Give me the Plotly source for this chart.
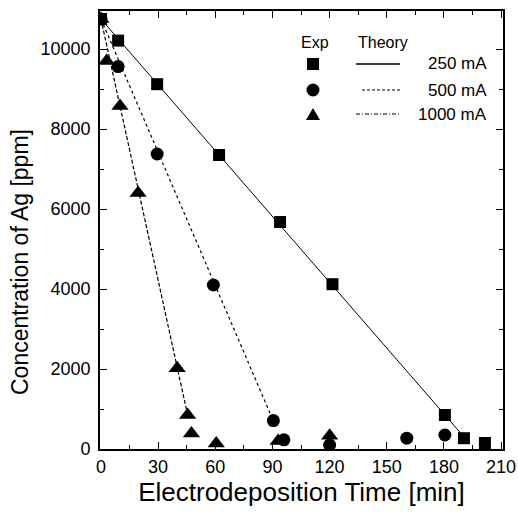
import plotly.graph_objects as go

# ---- data ----
t_250 = [0, 9, 29.5, 62, 94, 121.5, 180.5, 190.5, 201.5]
c_250 = [10750, 10210, 9120, 7350, 5675, 4120, 850, 270, 150]

t_500 = [0, 9, 29.5, 59, 90.5, 96, 120, 160.5, 180.5]
c_500 = [10750, 9560, 7375, 4100, 710, 230, 100, 270, 350]

t_1000 = [0, 3, 10, 19.5, 40, 45.5, 47.5, 60.5, 93, 120]
c_1000 = [10750, 9700, 8575, 6400, 2020, 850, 390, 140, 200, 330]

th_t_250 = [0, 190]
th_c_250 = [10750, 330]
th_t_500 = [0, 90.5]
th_c_500 = [10750, 700]
th_t_1000 = [0, 45.5]
th_c_1000 = [10750, 850]

x_ticks = [0, 30, 60, 90, 120, 150, 180, 210]
y_ticks = [0, 2000, 4000, 6000, 8000, 10000]
y_tick_text = ["0", "2000", "4000", "6000", "8000", "10000"]

FONT = "Liberation Sans, Arial, sans-serif"

fig = go.Figure()

# theory lines
fig.add_trace(go.Scatter(x=th_t_250, y=th_c_250, mode="lines",
                         line=dict(color="black", width=1), showlegend=False))
fig.add_trace(go.Scatter(x=th_t_500, y=th_c_500, mode="lines",
                         line=dict(color="black", width=1.2, dash="3px,3px"), showlegend=False))
fig.add_trace(go.Scatter(x=th_t_1000, y=th_c_1000, mode="lines",
                         line=dict(color="black", width=1.2, dash="4px,2px"), showlegend=False))

# experimental points
fig.add_trace(go.Scatter(x=t_250, y=c_250, mode="markers",
                         marker=dict(symbol="square", size=12, color="black"), showlegend=False))
fig.add_trace(go.Scatter(x=t_500, y=c_500, mode="markers",
                         marker=dict(symbol="circle", size=13, color="black"), showlegend=False))
fig.add_trace(go.Scatter(x=t_1000, y=c_1000, mode="markers",
                         marker=dict(symbol="triangle-up", size=15, color="black"), showlegend=False))

W, H = 518, 513
L, R, T, B = 100, 15, 11, 64
pw, ph = W - L - R, H - T - B


def px(xp):
    return (xp - L) / pw


def py(yp):
    return (H - B - yp) / ph


shapes = []
# legend symbols
sx = px(313)
hw = 6 / pw
hh = 6 / ph
ys = py(64)
shapes.append(dict(type="rect", xref="paper", yref="paper", x0=sx - hw, x1=sx + hw,
                   y0=ys - hh, y1=ys + hh, fillcolor="black", line=dict(width=0)))
yc = py(90)
r = 6.5
shapes.append(dict(type="circle", xref="paper", yref="paper", x0=sx - r / pw, x1=sx + r / pw,
                   y0=yc - r / ph, y1=yc + r / ph, fillcolor="black", line=dict(width=0)))
yt = py(114)
tw, th = 7 / pw, 6 / ph
shapes.append(dict(type="path", xref="paper", yref="paper",
                   path=f"M {sx - tw} {yt - th} L {sx + tw} {yt - th} L {sx} {yt + th} Z",
                   fillcolor="black", line=dict(width=0)))
# legend line samples
lx0, lx1 = px(356), px(400)
shapes.append(dict(type="line", xref="paper", yref="paper", x0=lx0, x1=lx1, y0=ys, y1=ys,
                   line=dict(color="black", width=1.3)))
shapes.append(dict(type="line", xref="paper", yref="paper", x0=px(362), x1=lx1, y0=yc, y1=yc,
                   line=dict(color="black", width=1, dash="3px,2px")))
shapes.append(dict(type="line", xref="paper", yref="paper", x0=lx0, x1=lx1, y0=yt, y1=yt,
                   line=dict(color="black", width=1, dash="4px,2px,1px,2px")))

annotations = [
    dict(text="Exp", x=px(315), y=py(42), xref="paper", yref="paper", showarrow=False,
         font=dict(family=FONT, size=16, color="black"), xanchor="center", yanchor="middle"),
    dict(text="Theory", x=px(383), y=py(42), xref="paper", yref="paper", showarrow=False,
         font=dict(family=FONT, size=16, color="black"), xanchor="center", yanchor="middle"),
    # y axis title (placed like the reference: slightly below the axis centre)
    dict(text="Concentration of Ag [ppm]", x=px(20), y=py(262), xref="paper", yref="paper",
         showarrow=False, textangle=-90, xanchor="center", yanchor="middle",
         font=dict(family=FONT, size=23, color="black")),
]
for lab, yy in [("250 mA", ys), ("500 mA", yc), ("1000 mA", yt)]:
    annotations.append(dict(text=lab, x=px(489), y=yy, xref="paper", yref="paper", showarrow=False,
                            font=dict(family=FONT, size=17, color="black"),
                            xanchor="right", yanchor="middle"))

axis_common = dict(showline=True, linecolor="black", linewidth=1.6, mirror="ticks",
                   ticks="inside", ticklen=7, tickwidth=1.3, tickcolor="black",
                   showgrid=False, zeroline=False,
                   tickfont=dict(family=FONT, size=18, color="black"))

fig.update_layout(
    width=W, height=H,
    margin=dict(l=L, r=R, t=T, b=B),
    paper_bgcolor="white", plot_bgcolor="white",
    shapes=shapes, annotations=annotations,
    xaxis=dict(range=[-0.5, 211], tickvals=x_ticks,
               minor=dict(dtick=15, tick0=0, ticks="inside", ticklen=4, tickcolor="black", tickwidth=1),
               title=dict(text="Electrodeposition Time [min]",
                          font=dict(family=FONT, size=26, color="black"), standoff=5),
               ticklabelstandoff=1,
               **axis_common),
    yaxis=dict(range=[0, 10950], tickvals=y_ticks, ticktext=y_tick_text,
               minor=dict(dtick=1000, tick0=0, ticks="inside", ticklen=4, tickcolor="black", tickwidth=1),
               ticklabelstandoff=4,
               **axis_common),
)
fig.update_xaxes(automargin=False)
fig.update_yaxes(automargin=False)

fig.write_html("out.html", config={"displayModeBar": False},
               post_script="document.body.style.margin='0';document.body.style.overflow='hidden';")
